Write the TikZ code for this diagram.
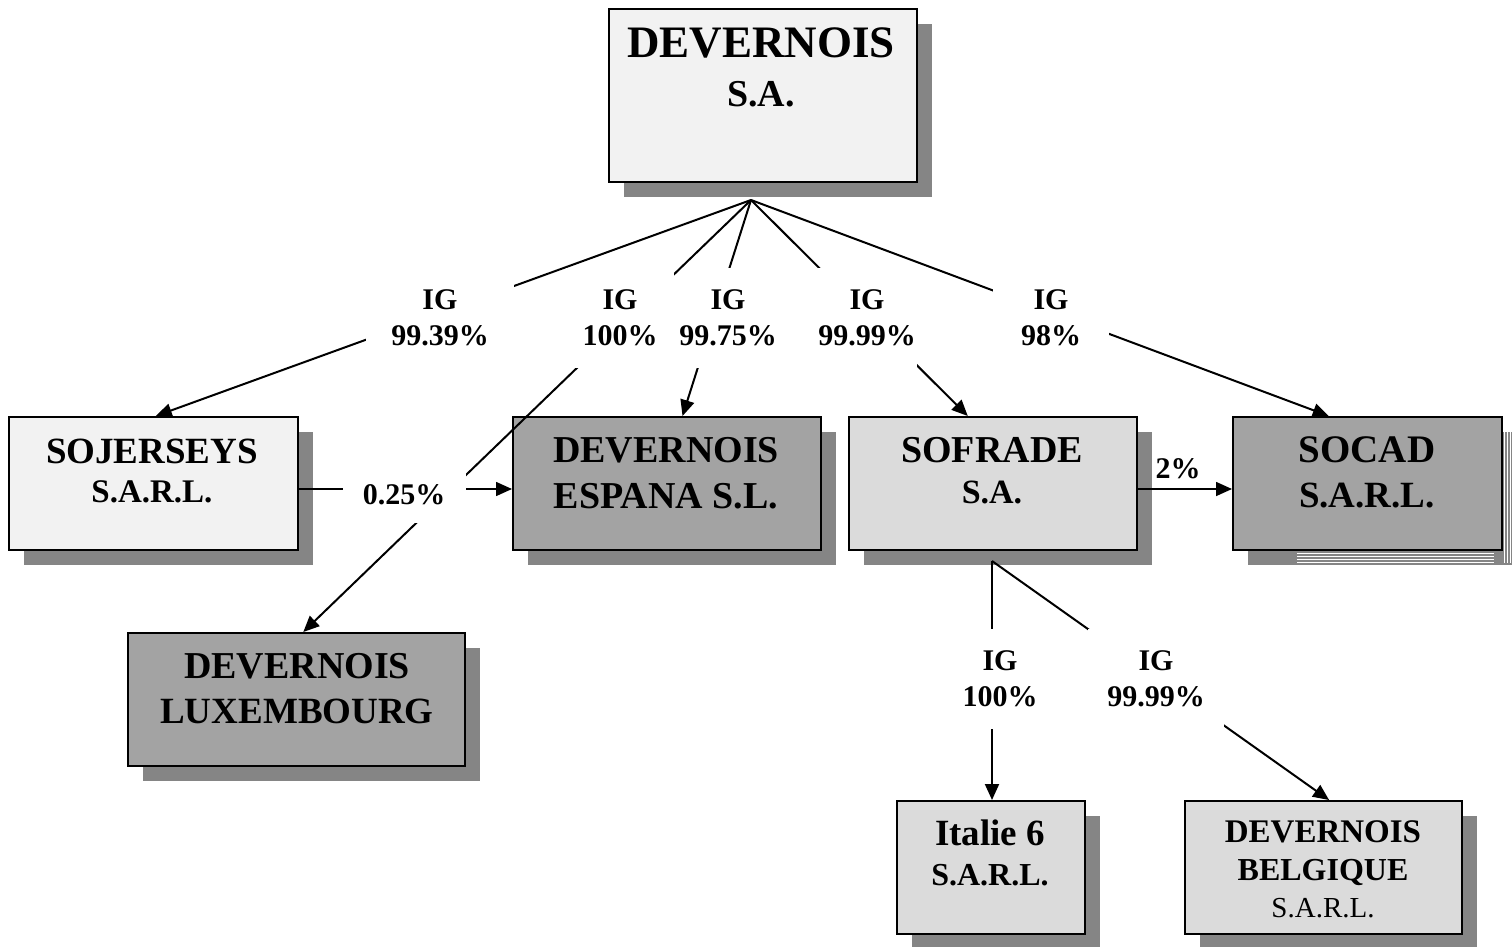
\documentclass[tikz,border=0pt]{standalone}
\usepackage{fontspec}
\setmainfont{Liberation Serif}
\usetikzlibrary{shadows,arrows.meta,calc}
\definecolor{shadowgray}{gray}{0.52}
\definecolor{lightfill}{gray}{0.95}
\definecolor{midfill}{gray}{0.64}
\definecolor{palefill}{gray}{0.86}
\begin{document}
\begin{tikzpicture}[x=1pt,y=-1pt,
  box/.style={draw=black, line width=2pt, rectangle, inner sep=0pt, anchor=north west,
    drop shadow={shadow xshift=15pt, shadow yshift=-15pt, opacity=1, fill=shadowgray}},
  tl/.style={anchor=base, inner sep=0pt},
  fs/.style={font=\fontsize{#1}{#1}\selectfont\bfseries},
  fsr/.style={font=\fontsize{#1}{#1}\selectfont},
  conn/.style={line width=2pt},
  arr/.style={conn, -{Triangle[length=16pt,width=14pt]}},
  lab/.style={fill=white, inner sep=0pt, align=center, font=\fontsize{30}{36}\selectfont\bfseries},
]
\useasboundingbox (0,0) rectangle (1512,947);

% boxes
\node[box, fill=lightfill, minimum width=308pt, minimum height=173pt] (root) at (608,8) {};
\node[box, fill=lightfill, minimum width=289pt, minimum height=133pt] (soj) at (8,416) {};
\node[box, fill=midfill, minimum width=308pt, minimum height=133pt] (esp) at (512,416) {};
\node[box, fill=palefill, minimum width=288pt, minimum height=133pt] (sof) at (848,416) {};
\node[box, fill=midfill, minimum width=269pt, minimum height=133pt] (soc) at (1232,416) {};
\node[box, fill=midfill, minimum width=337pt, minimum height=133pt] (lux) at (127,632) {};
\node[box, fill=palefill, minimum width=188pt, minimum height=133pt] (ita) at (896,800) {};
\node[box, fill=palefill, minimum width=277pt, minimum height=133pt] (bel) at (1184,800) {};

% stacked look of the SOCAD shadow
\foreach \yy in {553,556,559,562} \draw[white, line width=0.8pt] (1297,\yy) -- (1494,\yy);
\foreach \xx in {1504,1507,1510} \draw[white, line width=0.8pt] (\xx,431) -- (\xx,563);

% box texts
\node[tl, fs=45] (rootA) at (761,58) {DEVERNOIS};
\node[tl, fs=38] (rootB) at (761,107) {S.A.};
\node[tl, fs=37] (sojA) at (152,463) {SOJERSEYS};
\node[tl, fs=33] (sojB) at (152,502) {S.A.R.L.};
\node[tl, fs=38] (espA) at (666,462) {DEVERNOIS};
\node[tl, fs=38] (espB) at (666,508) {ESPANA S.L.};
\node[tl, fs=38] (sofA) at (992,462) {SOFRADE};
\node[tl, fs=34] (sofB) at (992,503) {S.A.};
\node[tl, fs=39] (socA) at (1367,462) {SOCAD};
\node[tl, fs=37] (socB) at (1367,507) {S.A.R.L.};
\node[tl, fs=38] (luxA) at (297,678) {DEVERNOIS};
\node[tl, fs=37] (luxB) at (297,723) {LUXEMBOURG};
\node[tl, fs=37] (itaA) at (990,845) {Italie 6};
\node[tl, fs=32] (itaB) at (990,885) {S.A.R.L.};
\node[tl, fs=33] (belA) at (1323,842) {DEVERNOIS};
\node[tl, fs=32] (belB) at (1323,880) {BELGIQUE};
\node[tl, fsr=29] (belC) at (1323,917) {S.A.R.L.};

% connectors
\coordinate (rf) at (751,200);
\coordinate (sf) at (992,561);
\draw[arr] (rf) -- ($(esp.north west)!0.55!(esp.north east)$);
\node[lab, minimum width=92pt, minimum height=100pt] (l3) at (728,318) {IG\\99.75\%};
\draw[arr] (rf) -- ($(soj.north west)!0.508!(soj.north east)$);
\draw[arr] (rf) -- ($(lux.north west)!0.52!(lux.north east)$);
\draw[arr] (rf) -- ($(sof.north west)!0.413!(sof.north east)$);
\draw[arr] (rf) -- ($(soc.north west)!0.357!(soc.north east)$);
\draw[arr, line width=1.6pt] ([yshift=-5.5pt]soj.east) -- ([yshift=-5.5pt]esp.west);
\draw[arr, line width=1.6pt] ([yshift=-5.5pt]sof.east) -- ([yshift=-5.5pt]soc.west);
\draw[arr] (sf) -- (sf |- ita.north);
\draw[arr] (sf) -- ($(bel.north west)!0.52!(bel.north east)$);

% labels
\node[lab, minimum width=148pt, minimum height=100pt] (l1) at (440,318) {IG\\99.39\%};
\node[lab, minimum width=108pt, minimum height=100pt] (l2) at (620,318) {IG\\100\%};
\node[lab, minimum width=100pt, minimum height=100pt] (l4) at (867,318) {IG\\99.99\%};
\node[lab, minimum width=116pt, minimum height=100pt] (l5) at (1051,318) {IG\\98\%};
\node[lab, minimum width=123pt, minimum height=55pt] (l6) at (404,495) {0.25\%};
\node[lab, fill=none, anchor=base] (l7) at (1178,478) {2\%};
\node[lab, minimum width=100pt, minimum height=100pt] (l8) at (1000,679) {IG\\100\%};
\node[lab, minimum width=136pt, minimum height=100pt] (l9) at (1156,679) {IG\\99.99\%};
\end{tikzpicture}
\end{document}
